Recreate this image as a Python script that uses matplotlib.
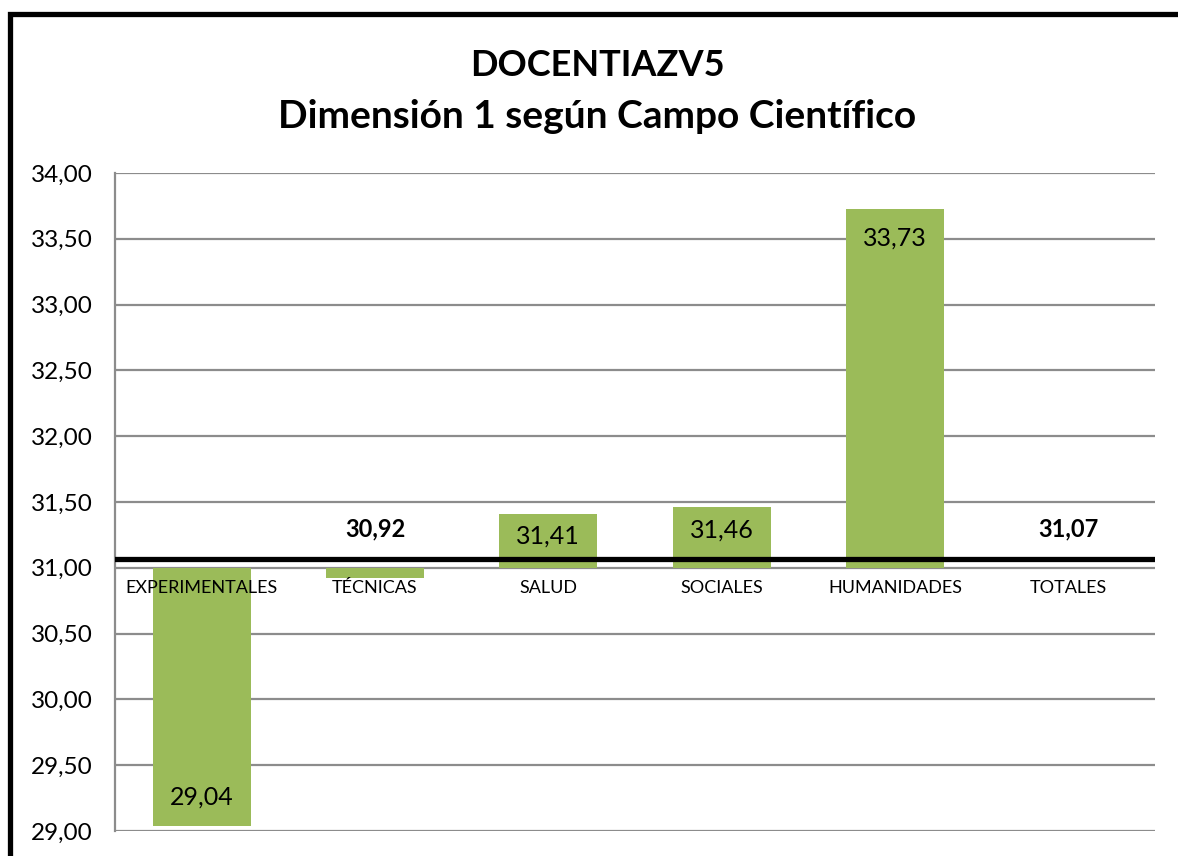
import matplotlib.pyplot as plt
from matplotlib.patches import Rectangle
from matplotlib.ticker import FuncFormatter

plt.rcParams['font.family'] = ['Lato', 'DejaVu Sans']

categorias = ["EXPERIMENTALES", "TÉCNICAS", "SALUD", "SOCIALES", "HUMANIDADES", "TOTALES"]
valores = [29.04, 30.92, 31.41, 31.46, 33.73]
total = 31.07
base = 31.0

fig = plt.figure(figsize=(11.78, 8.56), dpi=100)
ax = fig.add_axes([115 / 1178, 1 - 831 / 856, 1040 / 1178, 658 / 856])

x = list(range(len(categorias)))
verde = '#9BBB59'
gris = '#8c8c8c'
alturas = [v - base for v in valores]
ax.bar(x[:len(valores)], alturas, bottom=base, width=0.565, color=verde, zorder=1)

yticks = [29 + 0.5 * k for k in range(11)]
for t in yticks:
    ax.axhline(t, color=gris, lw=1.6, zorder=0.5)

# linea de totales
ax.axhline(total, color='black', lw=3.8, zorder=3)

def fmt(v):
    return f"{v:.2f}".replace('.', ',')

for i, v in enumerate(valores):
    if v >= total:
        off = -13 if v - base > 1 else -8
        ax.annotate(fmt(v), (x[i], v), xytext=(0, off), textcoords='offset points',
                    ha='center', va='top', fontsize=18)
    elif v < base - 0.5:
        ax.annotate(fmt(v), (x[i], v), xytext=(0, 12), textcoords='offset points',
                    ha='center', va='bottom', fontsize=18)
    else:
        ax.annotate(fmt(v), (x[i], total), xytext=(0, 21), textcoords='offset points',
                    ha='center', va='center', fontsize=17, fontweight='bold')
ax.annotate(fmt(total), (x[-1], total), xytext=(0, 21), textcoords='offset points',
            ha='center', va='center', fontsize=17, fontweight='bold')

ax.set_xlim(-0.5, len(categorias) - 0.5)
ax.set_ylim(29, 34)
ax.set_yticks(yticks)
ax.yaxis.set_major_formatter(FuncFormatter(lambda v, p: fmt(v)))
ax.tick_params(axis='y', length=0, labelsize=17.5, pad=16)

ax.set_xticks(x)
ax.set_xticklabels(categorias)
ax.tick_params(axis='x', length=0, labelsize=13, pad=9)
ax.spines['bottom'].set_position(('data', base))
ax.spines['bottom'].set_visible(False)
ax.spines['left'].set_color(gris)
ax.spines['left'].set_linewidth(1.6)
ax.spines['left'].set_zorder(0.6)
ax.spines['top'].set_visible(False)
ax.spines['right'].set_visible(False)

fig.text(0.507, 1 - 66 / 856, "DOCENTIAZV5", ha='center', va='center',
         fontsize=26, fontweight='bold')
fig.text(0.507, 1 - 117 / 856, "Dimensión 1 según Campo Científico", ha='center',
         va='center', fontsize=28, fontweight='bold')

# marco exterior
fig.patches.append(Rectangle((9.5 / 1178, -0.1), 1.2, 1 - 13.5 / 856 + 0.1,
                             transform=fig.transFigure, fill=False,
                             edgecolor='black', lw=3.8))

fig.savefig('out.png', dpi=100)
